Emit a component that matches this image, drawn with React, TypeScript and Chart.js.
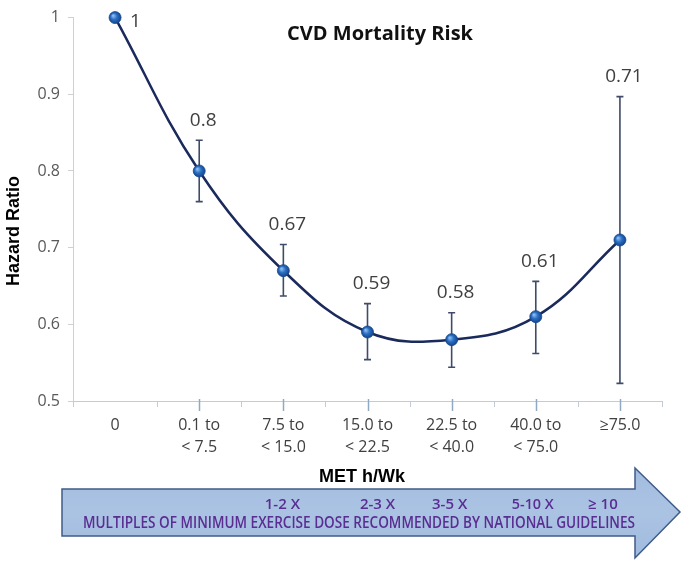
import React, { useEffect, useRef } from 'react';
import { Chart, registerables } from 'chart.js';

Chart.register(...registerables);

const categories: string[][] = [
  ['0'],
  ['0.1 to', '< 7.5'],
  ['7.5 to', '< 15.0'],
  ['15.0 to', '< 22.5'],
  ['22.5 to', '< 40.0'],
  ['40.0 to', '< 75.0'],
  ['≥75.0'],
];
const hazardRatio = [1, 0.8, 0.67, 0.59, 0.58, 0.61, 0.71];
const ciLower: (number | null)[] = [null, 0.76, 0.637, 0.554, 0.544, 0.562, 0.523];
const ciUpper: (number | null)[] = [null, 0.84, 0.704, 0.627, 0.615, 0.656, 0.897];
const multiplesLabels = ['1-2 X', '2-3 X', '3-5 X', '5-10 X', '≥ 10'];
const multiplesCategoryIndex = [2, 3, 4, 5, 6];
const titleText = 'CVD Mortality Risk';
const yTitle = 'Hazard Ratio';
const xTitle = 'MET h/Wk';
const arrowText = 'MULTIPLES OF MINIMUM EXERCISE DOSE RECOMMENDED BY NATIONAL GUIDELINES';

const multiplesNudge = [-1, 10, -2, -3, -17];

const decorPlugin = {
  id: 'decor',
  beforeDatasetsDraw(chart: any) {
    const { ctx, scales } = chart;
    const x = scales.x;
    const y = scales.y;
    const n = categories.length;
    ctx.save();
    ctx.strokeStyle = '#c3ccd6';
    ctx.lineWidth = 1;
    ctx.beginPath();
    ctx.moveTo(x.left, Math.round(y.bottom) + 0.5);
    ctx.lineTo(x.right, Math.round(y.bottom) + 0.5);
    ctx.stroke();
    for (let i = 0; i <= n; i++) {
      const px = Math.round(x.left + ((x.right - x.left) * i) / n) + 0.5;
      ctx.beginPath();
      ctx.moveTo(px, y.bottom);
      ctx.lineTo(px, y.bottom + 6);
      ctx.stroke();
    }
    ctx.strokeStyle = '#8fa9c2';
    ctx.lineWidth = 1.5;
    for (let i = 1; i < n; i++) {
      const px = Math.round(x.getPixelForValue(i)) + 0.5;
      ctx.beginPath();
      ctx.moveTo(px, y.bottom - 2);
      ctx.lineTo(px, y.bottom + 10);
      ctx.stroke();
    }
    ctx.strokeStyle = '#3f4b68';
    ctx.lineWidth = 1.6;
    for (let i = 0; i < n; i++) {
      const lo = ciLower[i];
      const hi = ciUpper[i];
      if (lo == null || hi == null) continue;
      const px = x.getPixelForValue(i);
      const pLo = y.getPixelForValue(lo);
      const pHi = y.getPixelForValue(hi);
      ctx.beginPath();
      ctx.moveTo(px, pLo);
      ctx.lineTo(px, pHi);
      ctx.moveTo(px - 3.5, pLo);
      ctx.lineTo(px + 3.5, pLo);
      ctx.moveTo(px - 3.5, pHi);
      ctx.lineTo(px + 3.5, pHi);
      ctx.stroke();
    }
    ctx.restore();
  },
  afterDatasetsDraw(chart: any) {
    const { ctx, scales } = chart;
    const x = scales.x;
    const y = scales.y;
    ctx.save();
    ctx.fillStyle = '#404040';
    ctx.font = '19px "Open Sans", sans-serif';
    ctx.textBaseline = 'middle';
    for (let i = 0; i < hazardRatio.length; i++) {
      const px = x.getPixelForValue(i);
      const label = String(hazardRatio[i]);
      const hi = ciUpper[i];
      if (hi == null) {
        ctx.textAlign = 'left';
        ctx.fillText(label, px + 15, y.getPixelForValue(hazardRatio[i]) + 4);
      } else {
        ctx.textAlign = 'center';
        ctx.fillText(label, px + 4, y.getPixelForValue(hi) - 20);
      }
    }
    ctx.restore();
  },
  afterDraw(chart: any) {
    const { ctx, scales } = chart;
    const x = scales.x;
    ctx.save();
    ctx.fillStyle = '#111111';
    ctx.font = 'bold 20px "Open Sans", sans-serif';
    ctx.textAlign = 'center';
    ctx.textBaseline = 'middle';
    ctx.fillText(titleText, 380, 34, 206);
    ctx.save();
    ctx.translate(14, 231);
    ctx.rotate(-Math.PI / 2);
    ctx.font = 'bold 18px "Liberation Sans", Arial, sans-serif';
    ctx.fillStyle = '#000000';
    ctx.fillText(yTitle, 0, 0);
    ctx.restore();
    ctx.font = 'bold 18px "Liberation Sans", Arial, sans-serif';
    ctx.fillStyle = '#000000';
    ctx.fillText(xTitle, 362, 477);
    ctx.beginPath();
    ctx.moveTo(62, 489);
    ctx.lineTo(635, 489);
    ctx.lineTo(635, 468);
    ctx.lineTo(680, 512);
    ctx.lineTo(635, 558);
    ctx.lineTo(635, 536);
    ctx.lineTo(62, 536);
    ctx.closePath();
    const grad = ctx.createLinearGradient(0, 468, 0, 558);
    grad.addColorStop(0, '#a3bde0');
    grad.addColorStop(0.5, '#abc3e3');
    grad.addColorStop(1, '#a0bbdf');
    ctx.fillStyle = grad;
    ctx.fill();
    ctx.strokeStyle = '#3f5b88';
    ctx.lineWidth = 1.5;
    ctx.stroke();
    ctx.fillStyle = '#5a2d91';
    ctx.font = '600 15px "Open Sans", sans-serif';
    ctx.textAlign = 'center';
    for (let k = 0; k < multiplesLabels.length; k++) {
      const px = x.getPixelForValue(multiplesCategoryIndex[k]) + multiplesNudge[k];
      ctx.fillText(multiplesLabels[k], px, 505, 42);
    }
    ctx.textAlign = 'left';
    ctx.font = '600 17px "Open Sans", sans-serif';
    ctx.fillText(arrowText, 83, 523, 552);
    ctx.restore();
  },
};

export default function App() {
  const ref = useRef<HTMLCanvasElement | null>(null);
  useEffect(() => {
    document.body.style.margin = '0';
    if (!ref.current) return;
    const chart = new Chart(ref.current, {
      type: 'line',
      data: {
        labels: categories,
        datasets: [
          {
            label: 'Hazard Ratio',
            data: hazardRatio,
            borderColor: '#1b2a5c',
            borderWidth: 2.5,
            tension: 0.4,
            pointRadius: 6,
            pointBackgroundColor: (c: any) => {
              const ch = c.chart;
              const xs = ch.scales && ch.scales.x;
              const ys = ch.scales && ch.scales.y;
              if (c.type !== 'data' || !xs || !ys) return '#1f60b5';
              const px = xs.getPixelForValue(c.dataIndex);
              const py = ys.getPixelForValue(c.raw);
              if (!isFinite(px) || !isFinite(py)) return '#1f60b5';
              const g = ch.ctx.createRadialGradient(px - 2, py - 2, 0.5, px, py, 6.5);
              g.addColorStop(0, '#8cbcf2');
              g.addColorStop(0.45, '#2a6fc4');
              g.addColorStop(1, '#123f82');
              return g;
            },
            pointBorderColor: '#14498f',
            pointBorderWidth: 0.8,
            clip: false as any,
            fill: false,
          },
        ],
      },
      options: {
        responsive: false,
        animation: false,
        layout: { padding: { top: 14, right: 23, left: 0, bottom: 0 } },
        plugins: {
          legend: { display: false },
          tooltip: { enabled: false },
          title: { display: false },
        },
        scales: {
          x: {
            type: 'category',
            offset: true,
            grid: { display: false, drawTicks: false },
            border: { display: false },
            ticks: {
              autoSkip: false,
              maxRotation: 0,
              padding: 13,
              color: '#404040',
              font: { family: '"Open Sans", sans-serif', size: 16, lineHeight: 1.38 },
            },
            afterFit: (s: any) => {
              s.height = 162;
            },
          },
          y: {
            min: 0.5,
            max: 1,
            ticks: {
              stepSize: 0.1,
              padding: 8,
              color: '#595959',
              font: { family: '"Open Sans", sans-serif', size: 16 },
              callback: (v: any) => String(Number(Number(v).toFixed(1))),
            },
            grid: { drawOnChartArea: false, drawTicks: true, tickLength: 5, color: '#d0d0d0' },
            border: { color: '#d0d0d0' },
            afterFit: (s: any) => {
              s.width = 73;
            },
          },
        },
      },
      plugins: [decorPlugin],
    });
    return () => chart.destroy();
  }, []);
  return (
    <div style={{ width: 685, height: 563 }}>
      <canvas ref={ref} width={685} height={563} style={{ display: 'block' }} />
    </div>
  );
}
